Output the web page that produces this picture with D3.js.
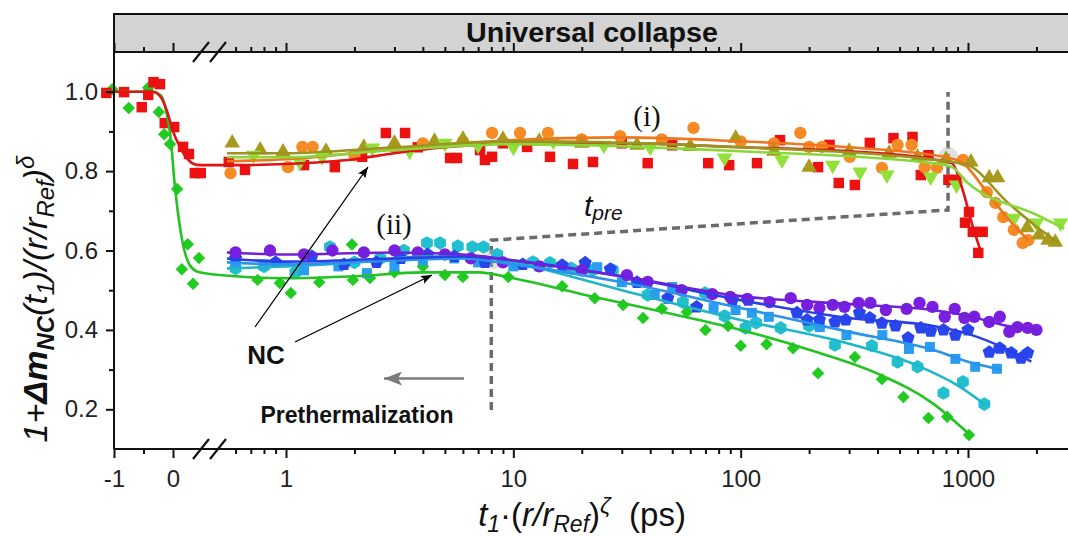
<!DOCTYPE html>
<html>
<head>
<meta charset="utf-8">
<script src="https://cdn.jsdelivr.net/npm/d3@7"></script>
<style>
  body { margin: 0; background: #fff; }
  svg { display: block; font-family: "Liberation Sans", Arial, sans-serif; }
</style>
</head>
<body>
<div id="chart"></div>
<script>
// ---- data: [t1*(r/rRef)^zeta, normalized signal] ----
// group (i)
const redPts = [[-1.13,0.997],[-0.83,0.999],[-0.53,0.961],[-0.42,0.992],[-0.33,1.024],[-0.22,1.019],[-0.14,0.921],[0.02,0.911],[0.17,0.861],[0.27,0.843],[0.37,0.795],[0.47,0.795],
  [0.56,0.823],[0.66,0.803],[1.2,0.815],[1.64,0.81],[2.16,0.836],[2.75,0.896],[3.34,0.896],[3.8,0.86],[5.27,0.833],[5.65,0.833],[7.14,0.853],[7.5,0.828],[8.06,0.836],[9,0.87],[11.5,0.861],[14.5,0.836],[18.3,0.818],[22.4,0.823],[30,0.87],[39,0.82],[50,0.865],[72,0.82],[89,0.815],[118,0.82],[149,0.878],[219,0.81],[246,0.866],[270,0.77],[318,0.765],[370,0.871],[470,0.883],[570,0.886],[620,0.79],[670,0.84],[820,0.778],[890,0.778],[970,0.67],[1010,0.697],[1050,0.647],[1110,0.594],[1160,0.647]];
const redFit = [[-1.2,1.0],[-0.35,1.0],[-0.2,0.985],[-0.1,0.95],[0,0.9],[0.12,0.86],[0.25,0.83],[0.35,0.818],[0.47,0.815],[0.6,0.815],[1,0.818],[2,0.83],[3,0.845],[5,0.86],[10,0.87],[30,0.87],[100,0.86],[300,0.85],[700,0.83],[850,0.82],[950,0.75],[1050,0.66],[1150,0.59]];
const orangePts = [[0.57,0.795],[1.02,0.81],[1.18,0.861],[1.31,0.861],[2,0.84],[3,0.86],[4,0.87],[6,0.875],[8.06,0.896],[10.7,0.896],[14.2,0.896],[20,0.88],[29.5,0.888],[45,0.88],[62,0.909],[100,0.875],[140,0.87],[183,0.896],[200,0.861],[228,0.861],[302,0.836],[418,0.808],[490,0.866],[565,0.866],[645,0.81],[730,0.808],[950,0.828],[1210,0.747],[1320,0.72],[1430,0.684],[1590,0.652],[1740,0.619],[1840,0.626]];
const orangeFit = [[0.55,0.825],[1,0.83],[3,0.855],[10,0.878],[30,0.885],[100,0.875],[300,0.86],[800,0.835],[950,0.82],[1200,0.75],[1500,0.68],[1850,0.625]];
const olivePts = [[0.58,0.871],[0.77,0.853],[0.97,0.848],[1.5,0.85],[2.2,0.86],[3,0.87],[4.5,0.875],[6,0.88],[9,0.88],[13,0.875],[20,0.87],[35,0.865],[60,0.862],[95,0.883],[140,0.85],[200,0.81],[300,0.85],[450,0.845],[600,0.835],[800,0.83],[1030,0.823],[1240,0.783],[1350,0.783],[1820,0.657],[2050,0.639],[2250,0.626],[2420,0.621]];
const oliveFit = [[0.55,0.845],[1,0.845],[3,0.86],[10,0.875],[100,0.86],[800,0.825],[1000,0.815],[1500,0.72],[2000,0.66],[2500,0.62]];
const limePts = [[0.72,0.84],[1.15,0.823],[1.44,0.836],[2.4,0.858],[3.5,0.85],[5,0.87],[7,0.865],[10,0.86],[15,0.875],[25,0.865],[40,0.86],[85,0.833],[152,0.828],[254,0.815],[335,0.798],[440,0.79],[685,0.785],[890,0.765],[1590,0.681],[2000,0.669],[2550,0.669]];
const limeFit = [[0.55,0.835],[1,0.835],[3,0.853],[10,0.868],[100,0.85],[700,0.82],[850,0.81],[1000,0.77],[2000,0.69],[2650,0.655]];
// group (ii)
const greenPts = [[-1.03,1.006],[-0.75,0.959],[-0.42,1.01],[-0.24,0.949],[-0.15,0.893],[-0.05,0.868],[0.07,0.755],[0.15,0.553],[0.25,0.616],[0.34,0.516],[0.44,0.581],
  [0.75,0.526],[0.94,0.518],[1.05,0.493],[1.4,0.52],[1.95,0.615],[1.97,0.526],[2.34,0.531],[3,0.545],[4,0.56],[5,0.538],[6,0.533],[9.5,0.533],[16.4,0.51],[22.8,0.48],[30.4,0.463],[37.2,0.43],[45,0.453],[58,0.445],[70,0.4],[88,0.41],[100,0.36],[130,0.364],[170,0.354],[219,0.291],[318,0.332],[418,0.276],[520,0.231],[670,0.178],[810,0.181],[1010,0.135]];
const greenFit = [[-1.2,1.0],[-0.35,1.0],[-0.2,0.99],[-0.1,0.94],[-0.03,0.87],[0.02,0.78],[0.08,0.7],[0.15,0.63],[0.3,0.56],[0.45,0.545],[0.6,0.535],[1,0.53],[2,0.535],[4,0.545],[7,0.545],[10,0.53],[20,0.49],[50,0.44],[100,0.4],[200,0.35],[400,0.29],[700,0.215],[1000,0.14]];
const cyanPts = [[0.6,0.555],[0.8,0.56],[1.1,0.545],[1.56,0.609],[2,0.57],[2.6,0.58],[3.3,0.6],[4.17,0.619],[4.76,0.619],[5.7,0.611],[6.6,0.609],[7.4,0.609],[8.5,0.59],[12.2,0.571],[14.5,0.569],[18,0.555],[22.4,0.551],[27.4,0.551],[39,0.488],[55.7,0.47],[69.7,0.493],[85,0.435],[105,0.405],[117,0.418],[150,0.405],[200,0.41],[260,0.362],[378,0.36],[490,0.319],[600,0.307],[780,0.241],[950,0.269],[1180,0.213]];
const cyanFit = [[0.55,0.555],[1,0.56],[2,0.57],[4,0.585],[7,0.585],[10,0.57],[30,0.5],[100,0.425],[300,0.365],[600,0.31],[900,0.26],[1200,0.21]];
const skyPts = [[0.6,0.57],[0.8,0.565],[1.2,0.55],[1.7,0.56],[2.27,0.543],[3,0.56],[4,0.575],[5.5,0.58],[7,0.57],[10,0.56],[13,0.56],[17,0.555],[23.4,0.558],[30,0.52],[41.9,0.488],[50,0.508],[76,0.455],[95,0.45],[112,0.443],[133,0.433],[223,0.407],[292,0.387],[420,0.387],[550,0.352],[680,0.357],[880,0.327],[1075,0.307],[1340,0.302]];
const skyFit = [[0.55,0.57],[1,0.565],[3,0.575],[6,0.58],[10,0.565],[30,0.52],[100,0.455],[300,0.395],[700,0.35],[1000,0.32],[1400,0.3]];
const bluePts = [[0.6,0.58],[0.9,0.57],[1.3,0.585],[1.8,0.565],[2.5,0.57],[3.2,0.58],[4.2,0.59],[5.5,0.585],[7.5,0.57],[11,0.565],[16.4,0.563],[20.7,0.569],[26.7,0.553],[35,0.52],[47.8,0.48],[64,0.458],[92,0.475],[108,0.475],[177,0.443],[196,0.425],[222,0.425],[260,0.42],[290,0.425],[333,0.443],[370,0.43],[418,0.417],[480,0.41],[545,0.38],[620,0.405],[685,0.397],[780,0.4],[880,0.387],[1000,0.4],[1240,0.344],[1380,0.354],[1550,0.342],[1710,0.329],[1830,0.342]];
const blueFit = [[0.55,0.58],[1,0.572],[3,0.58],[6,0.585],[10,0.575],[30,0.535],[100,0.475],[300,0.43],[700,0.41],[1000,0.39],[1500,0.35],[1900,0.32]];
const violetPts = [[0.6,0.595],[0.85,0.6],[1.2,0.59],[1.6,0.6],[2.2,0.595],[3,0.6],[3.8,0.595],[5,0.59],[6.5,0.58],[9,0.57],[13,0.56],[20,0.55],[31.6,0.538],[39,0.521],[55,0.5],[75,0.49],[90,0.483],[107,0.478],[134,0.47],[166,0.48],[196,0.463],[222,0.455],[254,0.463],[286,0.458],[330,0.468],[372,0.468],[435,0.45],[537,0.453],[612,0.468],[698,0.458],[790,0.433],[874,0.453],[965,0.43],[1066,0.433],[1240,0.42],[1380,0.433],[1520,0.395],[1650,0.407],[1830,0.405],[2000,0.4]];
const violetFit = [[0.55,0.595],[1,0.59],[3,0.595],[6,0.59],[10,0.575],[30,0.535],[100,0.485],[300,0.465],[700,0.45],[1000,0.435],[1500,0.41],[2000,0.4]];

// axis ticks
const linMajor = [-1, 0];
const linMinor = [-0.5];
const logMajor = [1, 10, 100, 1000];
const logMinor = [0.6, 0.7, 0.8, 0.9, 2, 3, 4, 5, 6, 7, 8, 9, 20, 30, 40, 50, 60, 70, 80, 90, 200, 300, 400, 500, 600, 700, 800, 900, 2000];
const yMajor = [0.2, 0.4, 0.6, 0.8, 1.0];
const yMinor = [0.3, 0.5, 0.7, 0.9];
// t_pre guide (dashed) and kink markers
const tpreGuide = [[8, 0.198], [8, 0.626], [817, 0.702], [817, 0.999]];
const kinks = [[817, 0.836], [8.2, 0.578]];

const svg = d3.select("#chart").append("svg")
  .attr("width", 1068).attr("height", 537);

// broken x axis: linear part below the break, log part above it
const xLin = d3.scaleLinear().domain([-1, 0.5]).range([114, 202.5]);
const xLog = d3.scaleLog().domain([1, 1000]).range([286, 968]);
const x = v => v < 0.5 ? xLin(v) : xLog(v);
const y = d3.scaleLinear().domain([0.1, 1.1]).range([449, 52]);
const L = 114, R = 1070, T = 52, B = 449;

// header band
svg.append("rect")
  .attr("x", L).attr("y", 14).attr("width", 1000).attr("height", T - 14)
  .attr("fill", "#d3d3d3").attr("stroke", "#111").attr("stroke-width", 2);
svg.append("text")
  .attr("x", (L + R) / 2).attr("y", 42)
  .attr("text-anchor", "middle")
  .attr("font-size", 27).attr("font-weight", "bold")
  .attr("textLength", 252).attr("lengthAdjust", "spacingAndGlyphs")
  .attr("fill", "#111")
  .text("Universal collapse");

// arrow markers
const defs = svg.append("defs");
defs.append("marker").attr("id", "ahBlack")
  .attr("viewBox", "0 0 10 8").attr("refX", 10).attr("refY", 4)
  .attr("markerWidth", 11).attr("markerHeight", 9)
  .attr("markerUnits", "userSpaceOnUse").attr("orient", "auto")
  .append("path").attr("d", "M0,0L10,4L0,8L2,4z").attr("fill", "#000");
defs.append("marker").attr("id", "ahGray")
  .attr("viewBox", "0 0 18 14").attr("refX", 18).attr("refY", 7)
  .attr("markerWidth", 18).attr("markerHeight", 14)
  .attr("markerUnits", "userSpaceOnUse").attr("orient", "auto")
  .append("path").attr("d", "M0,0L18,7L0,14L4,7z").attr("fill", "#7b7b7b");

// dashed t_pre guide
svg.append("path")
  .datum(tpreGuide)
  .attr("d", d3.line().x(d => x(d[0])).y(d => y(d[1])))
  .attr("fill", "none").attr("stroke", "#6b6b6b")
  .attr("stroke-width", 3.5).attr("stroke-dasharray", "8,5");

svg.selectAll(".kink").data(kinks).enter().append("circle")
  .attr("cx", d => x(d[0])).attr("cy", d => y(d[1])).attr("r", 10)
  .attr("fill", "#bdbdbd").attr("opacity", 0.45);

// marker shapes
function polygon(n) {
  return { draw(ctx, size) {
    const r = Math.sqrt(size / (n / 2 * Math.sin(2 * Math.PI / n)));
    for (let i = 0; i < n; i++) {
      const a = i * 2 * Math.PI / n;
      const px = r * Math.sin(a), py = -r * Math.cos(a);
      if (i) ctx.lineTo(px, py); else ctx.moveTo(px, py);
    }
    ctx.closePath();
  }};
}
const shapes = {
  square: [d3.symbolSquare, 0],
  circle: [d3.symbolCircle, 0],
  up: [d3.symbolTriangle, 0],
  down: [d3.symbolTriangle, 180],
  diamond: [d3.symbolSquare, 45],
  hex: [polygon(6), 0],
  pent: [polygon(5), 0]
};

const series = [
  { pts: greenPts, fit: greenFit, color: "#1fcc1f", line: "#22c322", shape: "diamond", size: 78 },
  { pts: cyanPts, fit: cyanFit, color: "#22c0cf", line: "#1fb6c8", shape: "hex", size: 120 },
  { pts: skyPts, fit: skyFit, color: "#2a9df0", line: "#2a94ea", shape: "square", size: 100 },
  { pts: bluePts, fit: blueFit, color: "#2845ee", line: "#2a3fe6", shape: "pent", size: 115 },
  { pts: violetPts, fit: violetFit, color: "#7a1fe0", line: "#7020d8", shape: "circle", size: 120 },
  { pts: redPts, fit: redFit, color: "#ee1111", line: "#e01414", shape: "square", size: 110 },
  { pts: orangePts, fit: orangeFit, color: "#f68a24", line: "#f0761c", shape: "circle", size: 120 },
  { pts: olivePts, fit: oliveFit, color: "#a79a1c", line: "#9c9420", shape: "up", size: 105 },
  { pts: limePts, fit: limeFit, color: "#92e03a", line: "#88d83a", shape: "down", size: 105 }
];

// points
series.forEach(s => {
  const [type, rot] = shapes[s.shape];
  svg.append("g").selectAll("path")
    .data(s.pts).enter().append("path")
    .attr("transform", d => `translate(${x(d[0])},${y(d[1])}) rotate(${rot})`)
    .attr("d", d3.symbol().type(type).size(s.size))
    .attr("fill", s.color);
});

// fit curves
const line = d3.line().x(d => x(d[0])).y(d => y(d[1])).curve(d3.curveMonotoneX);
series.forEach(s => {
  svg.append("path").datum(s.fit)
    .attr("d", line)
    .attr("fill", "none").attr("stroke", s.line).attr("stroke-width", 2.6);
});

// axes
function styleAxis(g) {
  g.select(".domain").remove();
  g.selectAll("line").attr("stroke", "#111").attr("stroke-width", 2);
  g.selectAll("text").attr("font-size", 24).attr("fill", "#222")
    .attr("font-family", "Liberation Sans, Arial, sans-serif");
}
function xAxes(pos, gen, withLabels) {
  const inward = pos === T;
  [[xLin, linMajor, 9, d3.format("d")], [xLin, linMinor, 5, null],
   [xLog, logMajor, 9, d3.format("d")], [xLog, logMinor, 5, null]].forEach(([sc, vals, size, fmt]) => {
    svg.append("g").attr("transform", `translate(0,${pos})`)
      .call(gen(sc).tickValues(vals).tickSize(inward ? -size : size).tickPadding(12)
        .tickFormat(withLabels && fmt ? (d => d < 0 ? "-" + Math.abs(d) : fmt(d)) : ""))
      .call(styleAxis);
  });
}
xAxes(B, d3.axisBottom, true);
xAxes(T, d3.axisBottom, false);

svg.append("g").attr("transform", `translate(${L},0)`)
  .call(d3.axisLeft(y).tickValues(yMajor).tickSize(8).tickPadding(8).tickFormat(d3.format(".1f")))
  .call(styleAxis);
svg.append("g").attr("transform", `translate(${L},0)`)
  .call(d3.axisLeft(y).tickValues(yMinor).tickSize(5).tickFormat(""))
  .call(styleAxis);
svg.append("g").attr("transform", `translate(${R},0)`)
  .call(d3.axisLeft(y).tickValues(yMajor).tickSize(-8).tickFormat(""))
  .call(styleAxis);

// frame lines
svg.append("line").attr("x1", L).attr("x2", R).attr("y1", B).attr("y2", B)
  .attr("stroke", "#111").attr("stroke-width", 2);
svg.append("line").attr("x1", L).attr("x2", L).attr("y1", T).attr("y2", B)
  .attr("stroke", "#111").attr("stroke-width", 2);

// axis break marks
[B, T].forEach(yy => {
  [201, 218].forEach(cx => {
    svg.append("line")
      .attr("x1", cx - 8).attr("y1", yy + 10).attr("x2", cx + 8).attr("y2", yy - 10)
      .attr("stroke", "#111").attr("stroke-width", 2.2);
  });
});

// y axis title
const yt = svg.append("text")
  .attr("transform", "translate(47,299) rotate(-90)")
  .attr("text-anchor", "middle").attr("font-size", 34)
  .attr("font-style", "italic").attr("fill", "#111");
yt.append("tspan").text("1+");
yt.append("tspan").attr("font-weight", "bold").text("\u0394m");
yt.append("tspan").attr("font-weight", "bold").attr("font-size", 24).attr("dy", 7).text("NC");
yt.append("tspan").attr("dy", -7).text("(t");
yt.append("tspan").attr("font-size", 24).attr("dy", 7).text("1");
yt.append("tspan").attr("dy", -7).text(")/(r/r");
yt.append("tspan").attr("font-size", 24).attr("dy", 7).text("Ref");
yt.append("tspan").attr("dy", -7).text(")");
yt.append("tspan").attr("font-size", 24).attr("dy", -13).text("\u03B4");

// x axis title
const xt = svg.append("text")
  .attr("x", 582).attr("y", 526)
  .attr("text-anchor", "middle").attr("font-size", 33).attr("fill", "#111");
xt.append("tspan").attr("font-style", "italic").text("t");
xt.append("tspan").attr("font-style", "italic").attr("font-size", 23).attr("dy", 6).text("1");
xt.append("tspan").attr("dy", -6).text("\u00B7(");
xt.append("tspan").attr("font-style", "italic").text("r/r");
xt.append("tspan").attr("font-style", "italic").attr("font-size", 23).attr("dy", 6).text("Ref");
xt.append("tspan").attr("dy", -6).text(")");
xt.append("tspan").attr("font-style", "italic").attr("font-size", 23).attr("dy", -13).text("\u03B6");
xt.append("tspan").attr("dy", 13).text("\u00A0\u00A0(ps)");

// annotations
svg.append("text").attr("x", 647).attr("y", 126).attr("text-anchor", "middle")
  .attr("font-family", "Liberation Serif, Times New Roman, serif").attr("font-size", 29)
  .attr("fill", "#111").text("(i)");
svg.append("text").attr("x", 394).attr("y", 234).attr("text-anchor", "middle")
  .attr("font-family", "Liberation Serif, Times New Roman, serif").attr("font-size", 29)
  .attr("fill", "#111").text("(ii)");

const tp = svg.append("text").attr("x", 584).attr("y", 216)
  .attr("font-style", "italic").attr("font-size", 30).attr("fill", "#111");
tp.append("tspan").text("t");
tp.append("tspan").attr("font-size", 21).attr("dy", 4).text("pre");

svg.append("text").attr("x", 266).attr("y", 364).attr("text-anchor", "middle")
  .attr("font-size", 26).attr("font-weight", "bold").attr("fill", "#111").text("NC");
svg.append("text").attr("x", 357).attr("y", 423).attr("text-anchor", "middle")
  .attr("font-size", 23).attr("font-weight", "bold").attr("fill", "#111").text("Prethermalization");

svg.append("line").attr("x1", 255).attr("y1", 327).attr("x2", 368).attr("y2", 167)
  .attr("stroke", "#000").attr("stroke-width", 1.3).attr("marker-end", "url(#ahBlack)");
svg.append("line").attr("x1", 295).attr("y1", 342).attr("x2", 432).attr("y2", 275)
  .attr("stroke", "#000").attr("stroke-width", 1.3).attr("marker-end", "url(#ahBlack)");
svg.append("line").attr("x1", 464).attr("y1", 378.5).attr("x2", 384).attr("y2", 378.5)
  .attr("stroke", "#7b7b7b").attr("stroke-width", 2.6).attr("marker-end", "url(#ahGray)");
</script>
</body>
</html>
